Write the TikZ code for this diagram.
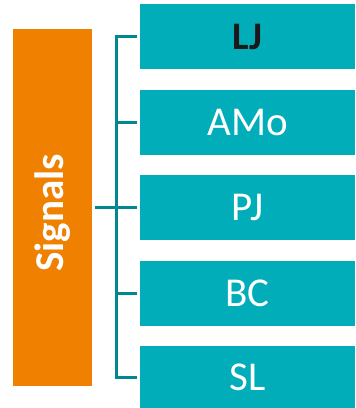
\documentclass[tikz,border=0pt]{standalone}
\usepackage{fontspec}
\setmainfont{Carlito}
\definecolor{sigorange}{RGB}{240,128,0}
\definecolor{boxteal}{RGB}{0,173,185}
\definecolor{lineteal}{RGB}{0,135,143}
\begin{document}
\begin{tikzpicture}[x=1pt,y=-1pt,
  labelbox/.style={fill=boxteal, draw=none, minimum width=215pt, minimum height=65pt, inner sep=0pt, anchor=north west, text=white, font=\fontsize{41}{42}\selectfont},
  branch/.style={draw=lineteal, line width=3pt}]
\useasboundingbox (0,0) rectangle (356,408);
\node[fill=sigorange, minimum width=79pt, minimum height=357pt, inner sep=0pt, anchor=north west] (sig) at (13,29) {};
\node[rotate=90, text=white, font=\bfseries\fontsize{41}{42}\selectfont] (sigtext) at (53,213) {Signals};
\node[labelbox, text=black!90, font=\bfseries\fontsize{39}{40}\selectfont] (lj) at (140,4) {LJ};
\node[labelbox] (amo) at (140,89.5) {AMo};
\node[labelbox] (pj) at (140,175) {PJ};
\node[labelbox] (bc) at (140,260.5) {BC};
\node[labelbox, minimum height=62pt] (sl) at (140,346) {SL};
\coordinate (spine) at (116,0);
\draw[branch] ([xshift=-3pt]lj.west) -| (spine |- sl.west) -- ([xshift=-3pt]sl.west);
\draw[branch] (spine |- amo.west) -- ([xshift=-3pt]amo.west);
\draw[branch] (spine |- bc.west) -- ([xshift=-3pt]bc.west);
\draw[branch] ([xshift=3pt]sig.east |- pj.west) -- ([xshift=-3pt]pj.west);
\end{tikzpicture}
\end{document}
